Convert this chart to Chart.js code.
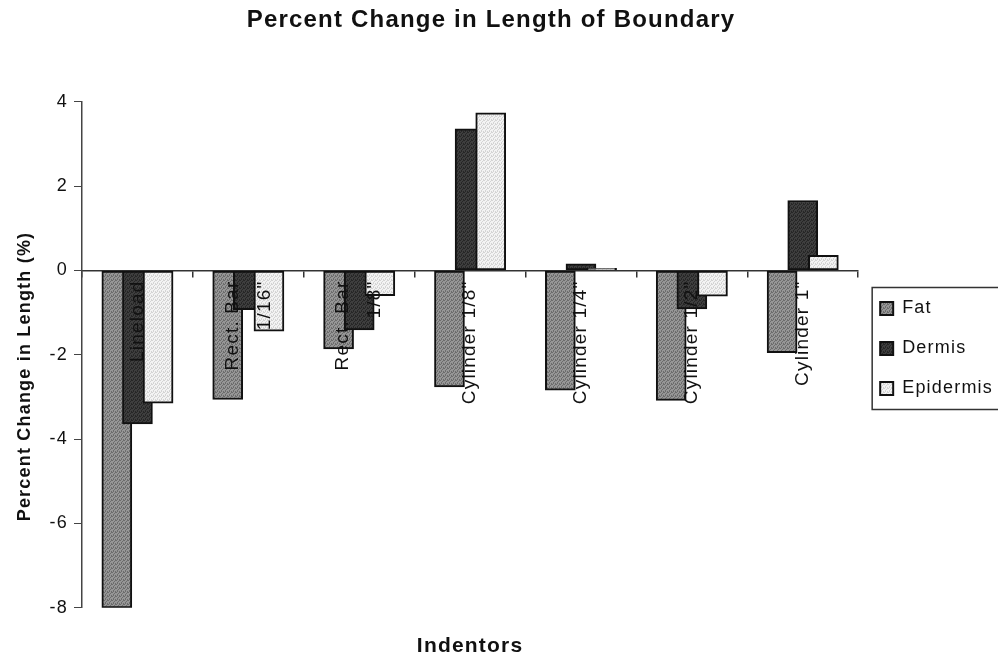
<!DOCTYPE html>
<html>
<head>
<meta charset="utf-8">
<script src="https://cdn.jsdelivr.net/npm/chart.js@4"></script>
<style>
  html, body { margin: 0; padding: 0; background: #fff; }
  #wrap { width: 998px; height: 661px; }
</style>
</head>
<body>
<div id="wrap"><canvas id="chart"></canvas></div>
<script>
// indentor categories; the blank line keeps one-line names on the tick,
// two-line names straddle it
const indentors = [
  ['', 'Lineload'],
  ['Rect. Bar', '', '1/16"'],
  ['Rect. Bar', '', '1/8"'],
  ['', 'Cylinder 1/8"'],
  ['', 'Cylinder 1/4"'],
  ['', 'Cylinder 1/2"'],
  ['', 'Cylinder 1"']
];

// percent change in boundary length per tissue layer
const fat       = [-8.0, -3.06, -1.86, -2.76, -2.84, -3.08, -1.95];
const dermis    = [-3.64, -0.93, -1.41, 3.36, 0.16, -0.91, 1.66];
const epidermis = [-3.15, -1.44, -0.60, 3.74, 0.05, -0.61, 0.36];

const yTicks = [-8, -6, -4, -2, 0, 2, 4];

const FONT = "'Liberation Sans', Arial, Helvetica, sans-serif";

// little stipple fills, like the old print shading
function stipple(a, b) {
  const c = document.createElement('canvas');
  c.width = 4; c.height = 4;
  const g = c.getContext('2d');
  g.fillStyle = a;
  g.fillRect(0, 0, 4, 4);
  g.fillStyle = b;
  [[0, 0], [2, 1], [1, 2], [3, 3], [3, 0], [1, 3]].forEach(([x, y]) => g.fillRect(x, y, 1, 1));
  return g.createPattern(c, 'repeat');
}

const fatFill = stipple('#969696', '#6c6c6c');
const dermisFill = stipple('#3e3e3e', '#262626');
const epiFill = stipple('#f3f3f3', '#d4d4d4');

// the three bars of a group overlap, so place them along a linear x scale
const shift = 0.186;
const asPoints = (vals, k) => vals.map((v, i) => ({ x: i + k * shift, y: v }));

// loose tracking on all the text (set before layout measures anything)
const tracking = {
  id: 'tracking',
  beforeUpdate(chart) { chart.ctx.letterSpacing = '1.2px'; },
  beforeDraw(chart) { chart.ctx.letterSpacing = '1.2px'; }
};

// frame around the legend
const legendFrame = {
  id: 'legendFrame',
  afterDraw(chart) {
    const boxes = chart.legend && chart.legend.legendHitBoxes;
    if (!boxes || !boxes.length) return;
    const top = Math.min(...boxes.map(b => b.top));
    const bottom = Math.max(...boxes.map(b => b.top + b.height));
    const left = Math.min(...boxes.map(b => b.left));
    const ctx = chart.ctx;
    ctx.save();
    ctx.strokeStyle = '#333';
    ctx.lineWidth = 1.5;
    ctx.strokeRect(left - 8, top - 12, chart.width - left + 14, bottom - top + 24);
    ctx.restore();
  }
};

new Chart(document.getElementById('chart'), {
  type: 'bar',
  data: {
    datasets: [
      { label: 'Fat', data: asPoints(fat, -1), backgroundColor: fatFill, order: 3 },
      { label: 'Dermis', data: asPoints(dermis, 0), backgroundColor: dermisFill, order: 2 },
      { label: 'Epidermis', data: asPoints(epidermis, 1), backgroundColor: epiFill, order: 1 }
    ]
  },
  options: {
    responsive: true,
    maintainAspectRatio: false,
    animation: false,
    layout: { padding: { left: -21, right: -5, top: 0, bottom: 0 } },
    datasets: {
      bar: {
        grouped: false,
        barThickness: 30,
        borderColor: '#111',
        borderWidth: 2,
        borderSkipped: false
      }
    },
    scales: {
      x: {
        type: 'linear',
        min: -0.5,
        max: 6.5,
        offset: false,
        ticks: { display: false },
        grid: { display: false, drawTicks: false, offset: false },
        border: { display: false },
        title: {
          display: true,
          text: 'Indentors',
          color: '#111',
          font: { family: FONT, size: 21, weight: 'bold' },
          padding: { top: 26, bottom: 2 }
        }
      },
      xCat: {
        type: 'category',
        axis: 'x',
        labels: indentors,
        offset: true,
        position: { y: 0 },
        grid: { drawOnChartArea: false, offset: true, tickLength: 6, color: '#333', lineWidth: 1.5 },
        border: { color: '#333', width: 1.5 },
        ticks: {
          z: 1,
          autoSkip: false,
          minRotation: 90,
          maxRotation: 90,
          padding: 4,
          labelOffset: -16,
          color: '#111',
          font: { family: FONT, size: 19, lineHeight: '16px' }
        }
      },
      y: {
        min: -8,
        max: 4,
        afterBuildTicks: axis => { axis.ticks = yTicks.map(v => ({ value: v })); },
        grid: { drawOnChartArea: false, tickLength: 8, color: '#444' },
        border: { color: '#444', width: 1.5 },
        ticks: { padding: 6, color: '#111', font: { family: FONT, size: 18 } },
        title: {
          display: true,
          // trailing blanks nudge the centred title a little lower
          text: 'Percent Change in Length (%)       ',
          color: '#111',
          font: { family: FONT, size: 18, weight: 'bold' },
          padding: { top: 35, bottom: 8 }
        }
      }
    },
    plugins: {
      title: {
        display: true,
        text: 'Percent Change in Length of Boundary',
        color: '#111',
        font: { family: FONT, size: 24, weight: 'bold' },
        padding: { top: 6, bottom: 67 }
      },
      legend: {
        position: 'right',
        reverse: true,
        title: { display: true, text: '', padding: 0, font: { size: 30 } },
        labels: {
          boxWidth: 13,
          boxHeight: 13,
          padding: 22,
          color: '#111',
          font: { family: FONT, size: 18 }
        }
      },
      tooltip: { enabled: false }
    }
  },
  plugins: [tracking, legendFrame]
});
</script>
</body>
</html>
